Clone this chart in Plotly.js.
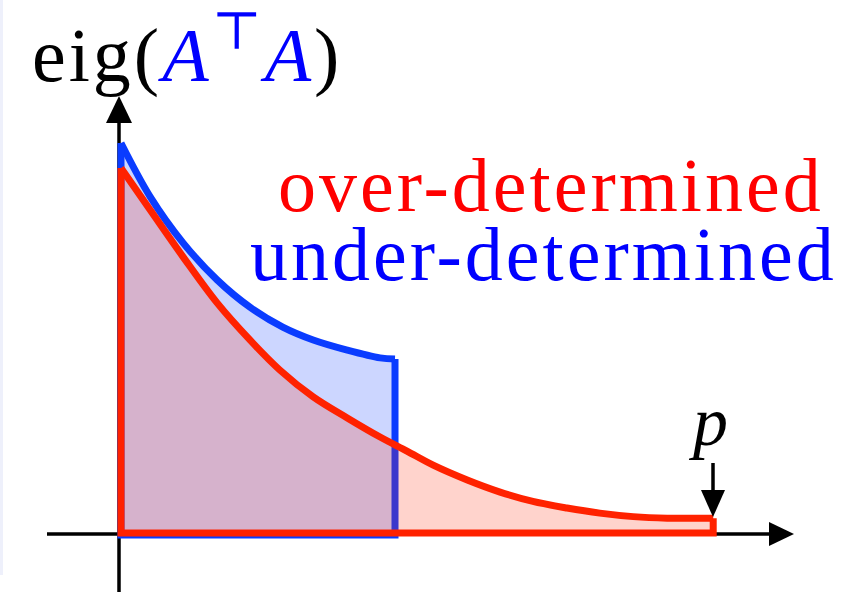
<!DOCTYPE html>
<html>
<head>
<meta charset="utf-8">
<script src="https://cdn.plot.ly/plotly-3.0.1.min.js"></script>
<style>
html,body{margin:0;padding:0;background:#fff;}
#chart{width:846px;height:593px;}
.annotation-text{letter-spacing:3px;}
</style>
</head>
<body>
<div id="chart"></div>
<script>
// x in units of p (0..1), y = relative eigenvalue
const underX = [0.005, 0.054, 0.109, 0.166, 0.221, 0.276, 0.327, 0.384, 0.439, 0.464];
const underY = [1.000, 0.862, 0.744, 0.649, 0.579, 0.528, 0.495, 0.469, 0.449, 0.446];
const overX = [0.005, 0.054, 0.109, 0.166, 0.221, 0.271, 0.327, 0.384, 0.439, 0.484, 0.528, 0.585, 0.640, 0.695, 0.752, 0.807, 0.863, 0.920, 0.997];
const overY = [0.936, 0.828, 0.708, 0.590, 0.495, 0.418, 0.349, 0.295, 0.246, 0.210, 0.174, 0.136, 0.105, 0.081, 0.064, 0.051, 0.042, 0.038, 0.038];
const labels = ["over-determined", "under-determined"];

function outline(xs, ys, base) {
  const xe = xs[xs.length - 1], ye = ys[ys.length - 1], x0 = xs[0], y0 = ys[0];
  return {x: [xe, xe, x0, x0], y: [ye, base, base, y0]};
}
const UO = outline(underX, underY, -0.005);
const OO = outline(overX, overY, 0.0);

const blue = '#0a3cff', red = '#ff2200';
const traces = [
  {x: underX, y: underY, mode: 'lines', fill: 'tozeroy', fillcolor: 'rgba(0,51,255,0.2)',
   line: {color: blue, width: 7, shape: 'spline', smoothing: 1}, hoverinfo: 'skip'},
  {x: UO.x, y: UO.y, mode: 'lines', line: {color: blue, width: 7}, hoverinfo: 'skip'},
  {x: overX, y: overY, mode: 'lines', fill: 'tozeroy', fillcolor: 'rgba(255,34,0,0.2)',
   line: {color: red, width: 7, shape: 'spline', smoothing: 1}, hoverinfo: 'skip'},
  {x: OO.x, y: OO.y, mode: 'lines', line: {color: red, width: 7}, hoverinfo: 'skip'}
];

const W = 846, H = 593;
const px = v => v / W, py = v => 1 - v / H;
function tri(a, b, c) {
  return `M${px(a[0])},${py(a[1])} L${px(b[0])},${py(b[1])} L${px(c[0])},${py(c[1])} Z`;
}
const shapes = [
  {type: 'rect', xref: 'paper', yref: 'paper', x0: 0, x1: px(3), y0: py(575), y1: 1, fillcolor: '#eef0fb', line: {width: 0}, layer: 'below'},
  {type: 'line', xref: 'paper', yref: 'paper', x0: px(119), x1: px(119), y0: py(592), y1: py(118), line: {color: '#000', width: 3.5}, layer: 'below'},
  {type: 'path', xref: 'paper', yref: 'paper', path: tri([119, 96], [106, 123], [132, 123]), fillcolor: '#000', line: {width: 0}},
  {type: 'line', xref: 'paper', yref: 'paper', x0: px(47), x1: px(775), y0: py(534), y1: py(534), line: {color: '#000', width: 3.5}, layer: 'below'},
  {type: 'path', xref: 'paper', yref: 'paper', path: tri([794, 534], [769, 522], [769, 546]), fillcolor: '#000', line: {width: 0}},
  {type: 'line', xref: 'paper', yref: 'paper', x0: px(713), x1: px(713), y0: py(463), y1: py(495), line: {color: '#000', width: 3.5}},
  {type: 'path', xref: 'paper', yref: 'paper', path: tri([713, 517], [701, 490], [725, 490]), fillcolor: '#000', line: {width: 0}}
];

const serif = 'Liberation Serif, DejaVu Serif, serif';
const annotations = [
  {xref: 'paper', yref: 'paper', x: px(30), y: py(50), xanchor: 'left', yanchor: 'middle', showarrow: false,
   text: 'eig(<span style="color:#0000ff"><i>A</i><sup>⊤</sup><i>A</i></span>)', font: {family: serif, size: 76, color: '#000'}},
  {xref: 'paper', yref: 'paper', x: px(826), y: py(185), xanchor: 'right', yanchor: 'middle', showarrow: false,
   text: labels[0], font: {family: serif, size: 76, color: '#ff0000'}},
  {xref: 'paper', yref: 'paper', x: px(839), y: py(254), xanchor: 'right', yanchor: 'middle', showarrow: false,
   text: labels[1], font: {family: serif, size: 76, color: '#0000ff'}},
  {xref: 'paper', yref: 'paper', x: px(709), y: py(421), xanchor: 'center', yanchor: 'middle', showarrow: false,
   text: '<i>p</i>', font: {family: serif, size: 70, color: '#000'}}
];

const layout = {
  width: W, height: H, margin: {l: 0, r: 0, t: 0, b: 0},
  paper_bgcolor: '#fff', plot_bgcolor: '#fff', showlegend: false,
  xaxis: {range: [-118 / 597, 728 / 597], visible: false, fixedrange: true},
  yaxis: {range: [-60 / 390, 533 / 390], visible: false, fixedrange: true},
  shapes, annotations
};
Plotly.newPlot('chart', traces, layout, {staticPlot: true});
</script>
</body>
</html>
